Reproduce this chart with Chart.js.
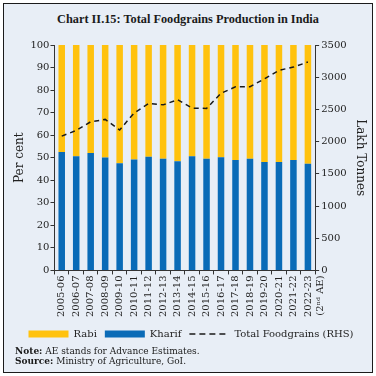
<!DOCTYPE html>
<html>
<head>
<meta charset="utf-8">
<script src="https://cdn.jsdelivr.net/npm/chart.js@4"></script>
<style>
  html, body { margin: 0; padding: 0; background: #fff; }
  body { width: 376px; height: 376px; position: relative; overflow: hidden; }
  #frame {
    position: absolute; left: 3px; top: 3px; width: 370px; height: 370px;
    box-sizing: border-box; border: 1.5px solid #1b1b1b; background: #e8eef6;
  }
  #title {
    position: absolute; left: 0; top: 12px; width: 376px; text-align: center;
    font: bold 12.3px "Liberation Serif", serif; color: #1a1a1a;
  }
  #wrap { position: absolute; left: 0; top: 0; width: 376px; height: 351px; }
  #notes {
    position: absolute; left: 15px; top: 346px;
    font: 9px/10px "DejaVu Serif", serif; color: #1a1a1a;
  }
</style>
</head>
<body>
<div id="frame"></div>
<div id="title">Chart II.15: Total Foodgrains Production in India</div>
<div id="wrap"><canvas id="c"></canvas></div>
<div id="notes">
  <div><b>Note:</b> AE stands for Advance Estimates.</div>
  <div><b>Source:</b> Ministry of Agriculture, GoI.</div>
</div>
<script>
const years = ['2005-06', '2006-07', '2007-08', '2008-09', '2009-10', '2010-11',
  '2011-12', '2012-13', '2013-14', '2014-15', '2015-16', '2016-17', '2017-18',
  '2018-19', '2019-20', '2020-21', '2021-22', ['2022-23', '(2\u207F\u1D48 AE)']];

// share of kharif in total production, per cent
const kharif = [52.5, 50.7, 52.1, 50.1, 47.5, 49.2, 50.4, 49.6, 48.4, 50.7,
  49.5, 50.2, 49.0, 49.5, 48.1, 48.1, 49.0, 47.3];
const rabi = kharif.map(k => +(100 - k).toFixed(1));

// total foodgrains, lakh tonnes
const total = [2086, 2173, 2308, 2345, 2181, 2445, 2593, 2571, 2650, 2520,
  2515, 2751, 2850, 2852, 2975, 3107, 3157, 3236];

const serif = '"DejaVu Serif", serif';
const ink = '#222';

new Chart(document.getElementById('c'), {
  data: {
    labels: years,
    datasets: [
      {
        type: 'bar', label: 'Kharif', data: kharif, yAxisID: 'y', order: 1,
        backgroundColor: '#0a6bb7', barPercentage: 0.45, categoryPercentage: 1,
      },
      {
        type: 'bar', label: 'Rabi', data: rabi, yAxisID: 'y', order: 1,
        backgroundColor: '#ffc20e', barPercentage: 0.45, categoryPercentage: 1,
      },
      {
        type: 'line', label: 'Total Foodgrains (RHS)', data: total, yAxisID: 'y1', order: 0,
        borderColor: '#1a1a1a', borderWidth: 1.5, borderDash: [5, 4],
        pointRadius: 0, fill: false, tension: 0,
      },
    ]
  },
  options: {
    responsive: true,
    maintainAspectRatio: false,
    animation: false,
    layout: {padding: {top: 45, left: 11, right: 5, bottom: 2}},
    plugins: {
      tooltip: {enabled: false},
      legend: {
        position: 'bottom',
        labels: {
          usePointStyle: true,
          pointStyleWidth: 40,
          boxHeight: 7,
          padding: 8,
          color: ink,
          font: {family: serif, size: 10},
          generateLabels: chart => {
            const items = chart.data.datasets.map((ds, i) => {
              const isLine = ds.type === 'line';
              return {
                text: ds.label,
                datasetIndex: i,
                fillStyle: isLine ? 'rgba(0,0,0,0)' : ds.backgroundColor,
                strokeStyle: isLine ? '#1a1a1a' : ds.backgroundColor,
                lineWidth: isLine ? 1.5 : 0,
                lineDash: isLine ? [6, 4] : [],
                pointStyle: isLine ? 'line' : 'rect',
                fontColor: ink,
                hidden: false,
              };
            });
            return [items[1], items[0], items[2]];
          }
        }
      }
    },
    scales: {
      x: {
        stacked: true,
        border: {color: '#333'},
        grid: {drawOnChartArea: false, tickLength: 4, color: '#333'},
        ticks: {
          autoSkip: false, minRotation: 90, maxRotation: 90, padding: 1,
          color: ink, font: {family: serif, size: 10},
        },
        afterFit: scale => { scale.height += 3; },
      },
      y: {
        stacked: true, position: 'left', min: 0, max: 100,
        border: {color: '#333'},
        grid: {drawOnChartArea: false, tickLength: 4, color: '#333'},
        ticks: {stepSize: 10, padding: 1, color: ink, font: {family: serif, size: 10}},
        title: {display: true, text: 'Per cent', color: ink, font: {family: serif, size: 12}, padding: 2},
      },
      y1: {
        position: 'right', min: 0, max: 3500,
        border: {color: '#333'},
        grid: {drawOnChartArea: false, tickLength: 4, color: '#333'},
        ticks: {stepSize: 500, padding: 2, color: ink, font: {family: serif, size: 10},
          callback: v => String(v)},
        title: {display: true, text: 'Lakh Tonnes', color: ink, font: {family: serif, size: 12}, padding: 4},
      },
    }
  }
});
</script>
</body>
</html>
